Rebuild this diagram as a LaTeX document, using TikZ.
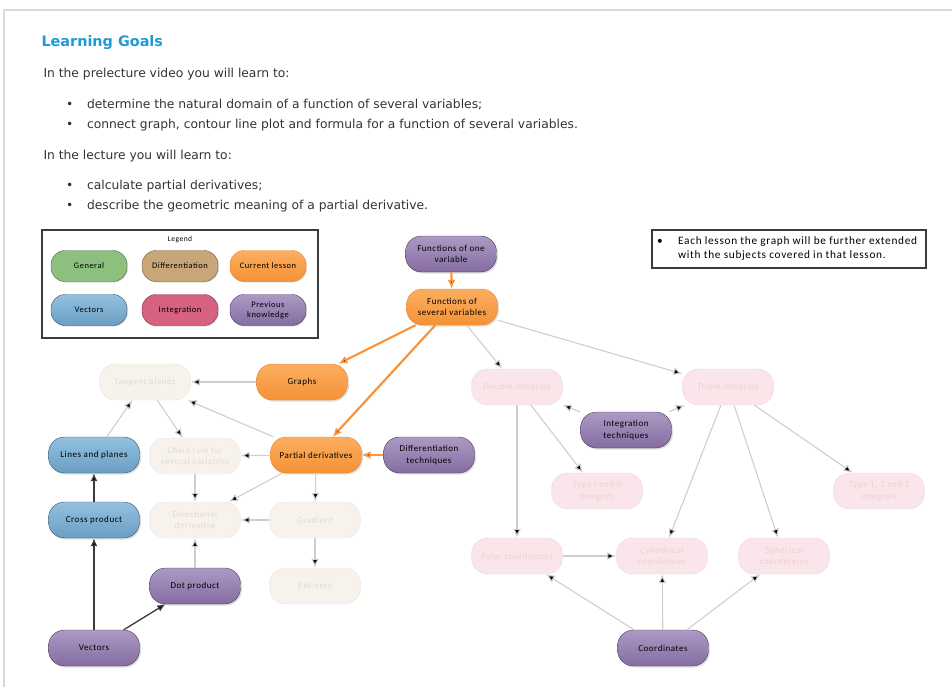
\documentclass[tikz,border=0pt]{standalone}
\usepackage{fontspec}
\setmainfont{DejaVu Sans}
\newfontfamily\boxfont[LetterSpace=6]{Carlito}
\usepackage{tikz}
\usetikzlibrary{arrows.meta,shadows}

\definecolor{goalblue}{HTML}{1E9AD6}
\definecolor{bodytext}{HTML}{333333}
\definecolor{frameline}{HTML}{D9D9D9}
\definecolor{prevtop}{HTML}{AC9AC3}
\definecolor{prevbot}{HTML}{856CA2}
\definecolor{prevline}{HTML}{4B3C5C}
\definecolor{curtop}{HTML}{FBAE60}
\definecolor{curbot}{HTML}{F49235}
\definecolor{curline}{HTML}{E5832A}
\definecolor{vectop}{HTML}{93C1DF}
\definecolor{vecbot}{HTML}{6A9EC3}
\definecolor{vecline}{HTML}{35546B}
\definecolor{genfill}{HTML}{8DC07F}
\definecolor{genline}{HTML}{4B6A45}
\definecolor{difffill}{HTML}{C9A677}
\definecolor{diffline}{HTML}{6B5A40}
\definecolor{intfill}{HTML}{D6627F}
\definecolor{intline}{HTML}{7A3345}
\definecolor{beigefill}{HTML}{F7F3EC}
\definecolor{beigeline}{HTML}{EBE4D8}
\definecolor{beigetext}{HTML}{E2DACC}
\definecolor{pinkfill}{HTML}{FAE6EA}
\definecolor{pinkline}{HTML}{F2D5DB}
\definecolor{pinktext}{HTML}{EECED5}
\definecolor{fadearrow}{HTML}{CECECE}
\definecolor{orangearrow}{HTML}{F7953A}
\definecolor{darkarrow}{HTML}{3A3A3A}

\begin{document}
\begin{tikzpicture}[x=1pt, y=-1pt,
	topic/.style={draw, rounded corners=16pt, minimum width=91pt, minimum height=36pt,
		align=center, inner sep=1pt, font=\boxfont\fontsize{9}{11.5}\selectfont},
	prior/.style={topic, draw=prevline, top color=prevtop, bottom color=prevbot,
		drop shadow={opacity=0.25, shadow xshift=1.5pt, shadow yshift=-1.5pt}},
	current/.style={topic, draw=curline, top color=curtop, bottom color=curbot,
		drop shadow={opacity=0.25, shadow xshift=1.5pt, shadow yshift=-1.5pt}},
	vecs/.style={topic, draw=vecline, top color=vectop, bottom color=vecbot,
		drop shadow={opacity=0.25, shadow xshift=1.5pt, shadow yshift=-1.5pt}},
	difffaded/.style={topic, draw=beigeline, fill=beigefill, text=beigetext},
	intfaded/.style={topic, draw=pinkline, fill=pinkfill, text=pinktext},
	key/.style={draw, rounded corners=14pt, minimum width=76pt, minimum height=31pt,
		align=center, inner sep=1pt, font=\boxfont\fontsize{8.5}{10}\selectfont,
		drop shadow={opacity=0.25, shadow xshift=1pt, shadow yshift=-1pt}},
	line/.style={anchor=west, text=bodytext, font=\fontsize{12.3}{14}\selectfont},
	fade/.style={draw=fadearrow, line width=1.1pt, -{Latex[length=9pt,width=8pt]}},
	hot/.style={draw=orangearrow, line width=2.2pt, -{Latex[length=9pt,width=8pt]}},
	dark/.style={draw=darkarrow, line width=1.3pt, -{Latex[length=8pt,width=7pt]}}
]
\useasboundingbox (0,0) rectangle (952,687);
\draw[frameline, line width=1.8pt] (4,687) -- (4,10) -- (952,10);

% text above the graph
\node[anchor=west, text=goalblue, font=\bfseries\fontsize{14.4}{16}\selectfont] (title) at (38,43) {Learning Goals};
\node[line] (intro) at (40,74) {In the prelecture video you will learn to:};
\node[line] (goal1) at (62.5,105) {\makebox[21pt][l]{\textbullet}determine the natural domain of a function of several variables;};
\node[line] (goal2) at (62.5,125) {\makebox[21pt][l]{\textbullet}connect graph, contour line plot and formula for a function of several variables.};
\node[line] (lecture) at (40,156) {In the lecture you will learn to:};
\node[line] (goal3) at (62.5,186) {\makebox[21pt][l]{\textbullet}calculate partial derivatives;};
\node[line] (goal4) at (62.5,206) {\makebox[21pt][l]{\textbullet}describe the geometric meaning of a partial derivative.};

% legend
\node[draw=darkarrow, line width=2pt, minimum width=276pt, minimum height=108pt] (legend) at (180,284) {};
\node[font=\boxfont\fontsize{7.5}{8}\selectfont] (legendtitle) at (180,240) {Legend};
\node[key, draw=genline, fill=genfill] (kgeneral) at (89,266) {General};
\node[key, draw=diffline, fill=difffill] (kdiff) at (180,266) {Differentiation};
\node[key, draw=curline, top color=curtop, bottom color=curbot] (kcurrent) at (268,266) {Current lesson};
\node[key, draw=vecline, top color=vectop, bottom color=vecbot] (kvectors) at (89,310) {Vectors};
\node[key, draw=intline, fill=intfill] (kint) at (180,310) {Integration};
\node[key, draw=prevline, top color=prevtop, bottom color=prevbot] (kprev) at (268,310) {Previous\\knowledge};

% note
\node[draw=darkarrow, line width=2pt, minimum width=274pt, minimum height=38pt] (note) at (789,249) {};
\node[anchor=west, align=left, inner sep=0pt, font=\boxfont\fontsize{11.3}{14}\selectfont] (notetext) at (657,249)
	{\makebox[21pt][l]{\textbullet}Each lesson the graph will be further extended\\\makebox[21pt][l]{}with the subjects covered in that lesson.};

% graph
\node[prior] (onevar) at (451,254) {Functions of one\\variable};
\node[current] (sevvar) at (452,307) {Functions of\\several variables};
\node[current] (graphs) at (302,382) {Graphs};
\node[difffaded] (tangent) at (145,382) {Tangent planes};
\node[intfaded] (double) at (517,387) {Double integrals};
\node[intfaded] (triple) at (728,387) {Triple integrals};
\node[prior] (inttech) at (626,430) {Integration\\techniques};
\node[vecs] (lines) at (94,455) {Lines and planes};
\node[difffaded] (chain) at (195,456) {Chain rule for\\several variables};
\node[current] (partial) at (316,455) {Partial derivatives};
\node[prior] (difftech) at (429,455) {Differentiation\\techniques};
\node[intfaded] (typeI) at (597,491) {Type I and II\\integrals};
\node[intfaded] (type123) at (879,491) {Type 1, 2 and 3\\integrals};
\node[vecs] (cross) at (94,520) {Cross product};
\node[difffaded] (direct) at (195,520) {Directional\\derivative};
\node[difffaded] (gradient) at (315,520) {Gradient};
\node[intfaded] (polar) at (517,556) {Polar coordinates};
\node[intfaded] (cyl) at (662,556) {Cylindrical\\coordinates};
\node[intfaded] (sph) at (784,556) {Spherical\\coordinates};
\node[prior] (dot) at (195,586) {Dot product};
\node[difffaded] (extrema) at (315,586) {Extrema};
\node[prior] (vectors) at (94,648) {Vectors};
\node[prior] (coords) at (663,648) {Coordinates};

\path[fade]
(sevvar) edge (double)
	edge (triple)
(graphs) edge (tangent)
(partial) edge (tangent)
	edge (chain)
	edge (direct)
	edge (gradient)
(lines) edge (tangent)
(tangent) edge (chain)
(chain) edge (direct)
(gradient) edge (direct)
	edge (extrema)
(dot) edge (direct)
(inttech) edge (double)
	edge (triple)
(double) edge (polar)
	edge (typeI)
(triple) edge (cyl)
	edge (sph)
	edge (type123)
(polar) edge (cyl)
(coords) edge (polar)
	edge (cyl)
	edge (sph)
;
\path[hot]
(onevar) edge (sevvar)
(sevvar) edge (graphs)
	edge (partial)
(difftech) edge (partial)
;
\path[dark]
(vectors) edge (cross)
	edge (dot)
(cross) edge (lines)
;
\end{tikzpicture}
\end{document}
